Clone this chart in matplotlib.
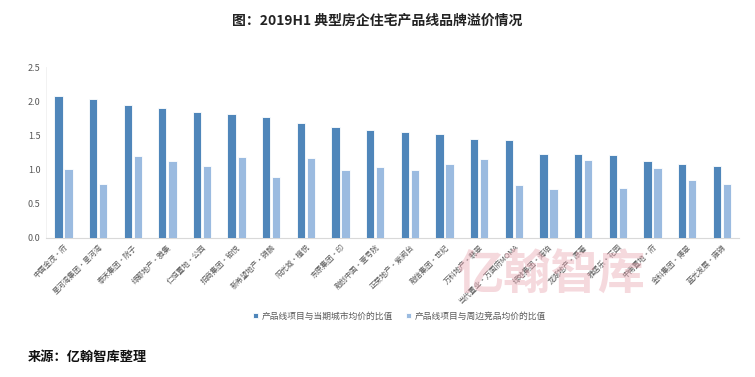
import numpy as np
import matplotlib.pyplot as plt

plt.rcParams['font.family'] = ['Noto Sans CJK SC', 'DejaVu Sans']

# data
projects = ["中国金茂·府", "星河湾集团·星河湾", "泰禾集团·院子", "绿都地产·雅集", "仁恒置地·公园",
            "招商集团·铂悦", "新希望地产·锦麟", "阳光城·檀悦", "东原集团·印", "融创中国·壹号院",
            "正荣地产·紫阙台", "融信集团·世纪", "万科地产·翡翠", "当代置业·万国府MOMA", "绿地集团·海珀",
            "龙湖地产·原著", "雅居乐·花园", "中南置地·府", "金科集团·博翠", "蓝光发展·雍锦"]
ratio_city = [2.08, 2.04, 1.94, 1.91, 1.85, 1.81, 1.77, 1.68, 1.63, 1.58,
              1.55, 1.52, 1.45, 1.44, 1.23, 1.23, 1.22, 1.12, 1.08, 1.05]
ratio_nearby = [1.01, 0.79, 1.20, 1.12, 1.05, 1.19, 0.89, 1.17, 1.00, 1.04,
                1.00, 1.08, 1.15, 0.77, 0.72, 1.14, 0.73, 1.02, 0.85, 0.79]
series_names = ["产品线项目与当期城市均价的比值", "产品线项目与周边竞品均价的比值"]

DARK = "#4f86ba"
LIGHT = "#9bbbe0"


def main():
  fig = plt.figure(figsize=(7.55, 3.77), dpi=100)
  ax = fig.add_axes([0.061, 0.3695, 0.918, 0.452])

  x = np.arange(len(projects))
  w = 0.24
  ax.bar(x - 0.145, ratio_city, width=w, color=DARK, edgecolor="white", linewidth=0.6,
         label=series_names[0], zorder=3)
  ax.bar(x + 0.145, ratio_nearby, width=w, color=LIGHT, edgecolor="white", linewidth=0.6,
         label=series_names[1], zorder=3)

  ax.set_xlim(-0.5, len(projects) - 0.5)
  ax.set_ylim(0, 2.5)
  ax.set_yticks(np.arange(0, 2.51, 0.5))
  ax.set_yticklabels([f"{v:.1f}" for v in np.arange(0, 2.51, 0.5)], fontsize=6.5, color="#595959")
  ax.set_xticks(x)
  ax.set_xticklabels(projects, rotation=45, ha="right", rotation_mode="anchor",
                     fontsize=5.3, color="#595959")
  ax.tick_params(axis="both", length=0, pad=4)
  for s in ["top", "right"]:
    ax.spines[s].set_visible(False)
  ax.spines["left"].set_color("#f0f0f0")
  ax.spines["bottom"].set_color("#d9d9d9")
  ax.spines["left"].set_linewidth(0.6)
  ax.spines["bottom"].set_linewidth(0.8)

  ax.legend(loc="center", bbox_to_anchor=(0.51, -0.46), ncol=2, frameon=False, fontsize=6.3,
            handlelength=0.6, handleheight=0.6, handletextpad=0.4, columnspacing=1.5,
            labelcolor="#595959")

  # watermark
  fig.text(0.73, 0.27, "亿翰智库", fontsize=34, color="#e8a0ac", alpha=0.4,
           ha="center", va="center", fontweight="bold", zorder=0)

  fig.text(0.5, 0.945, "图：2019H1 典型房企住宅产品线品牌溢价情况", ha="center", va="center",
           fontsize=10, fontweight="bold", color="#222222")
  fig.text(0.037, 0.053, "来源：亿翰智库整理", ha="left", va="center",
           fontsize=9.5, fontweight="bold", color="#111111")

  fig.savefig("out.png", dpi=100, facecolor="white")


if __name__ == "__main__":
  main()
